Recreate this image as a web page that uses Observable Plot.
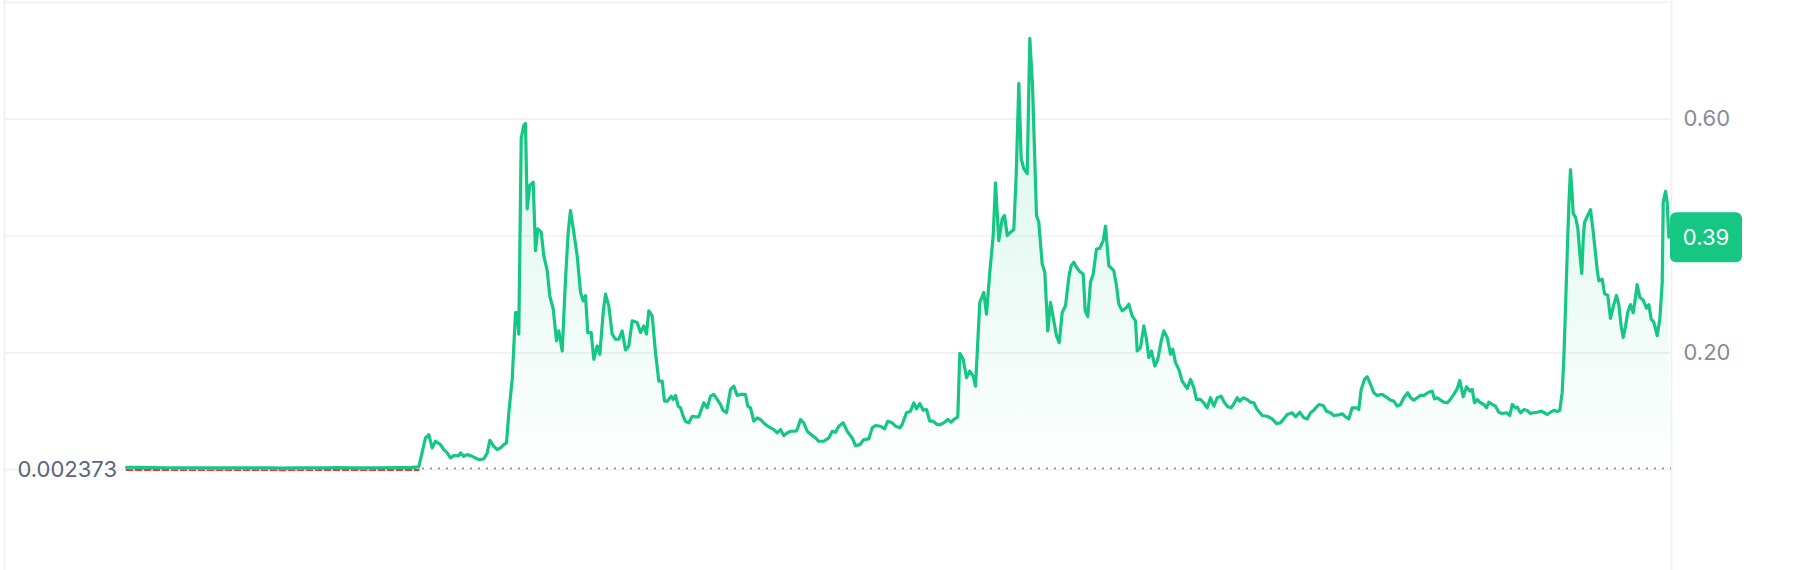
<!DOCTYPE html>
<html><head><meta charset="utf-8">
<script src="https://cdn.jsdelivr.net/npm/d3@7"></script>
<script src="https://cdn.jsdelivr.net/npm/@observablehq/plot@0.6"></script>
<style>
html,body{margin:0;padding:0;background:#fff;}
#chart{width:1804px;height:570px;overflow:hidden;}
svg{display:block;}
</style></head><body><div id="chart"></div>
<script>
// time steps (arbitrary units along the x axis) and prices
const times = [
0,12,25,40,55,70,85,100,115,130,145,155,170,185,200,210,225,240,255,270,282,292.3,
299,302.3,305.7,309,314,317.3,320.7,324,327.3,332.3,334,337.3,340.7,345.7,349,352.3,357.3,360.7,363.3,367.3,370.7,374,377.3,380,
382.3,385.7,389,390.7,392.3,394.7,397.3,399,400.7,403.3,406.7,409,411.3,414.7,417.3,420.7,423.3,426.7,430,432.3,435.7,439,441.7,444,447.3,450.7,454,456.7,459,461.3,464.7,467.3,470.7,473.3,476.7,479,482.3,485.7,489,492.3,495.7,499,502.3,505.7,510.7,514,517.3,520,522.3,525.7,529,532.3,535.7,538,540.7,544.7,546.7,549,551.7,554,556.7,559,562.3,565.7,569,572.3,
577.3,580.7,584,587.3,590.7,594,596.7,600,604,607.3,610.7,614,619,621.3,624,627.3,630.7,634,639,644,647.3,650.7,654,657.3,660.7,664,669,670.7,674,677.3,680.7,685.7,689,692.3,697.3,702.3,705.7,709,712.3,716.7,720.7,725.7,729,733.3,737.3,742.3,745.7,749,754,758,761.3,765.7,769,773.3,775.7,780,784,787.3,790,793.3,796.7,800,803.3,806.7,810.7,814,817.3,821.3,824.7,827.3,831.3,833.3,836.7,840,843.3,846.7,849,853.3,857.3,860,863.3,866.7,869,872.3,
875.7,878,880.7,884,887.3,889.7,892.3,894.7,897.3,900.7,903.3,906,910,912.3,915.7,918.3,921.3,924,927.3,930,932.7,935.7,939,942.3,944.7,947.3,950,953.3,956.7,958.7,961.3,964,966.7,970,973.3,976.7,979,982.3,987.3,990,992.3,995.7,1000,1002.3,1005.7,1009,1010.7,1014,1017.3,1020,1022.3,1025,1028.3,1031.3,1034.7,1037.3,1040.7,1044,1046.3,1049,1052.3,1055.7,1060.7,1064,1067.3,1070,1074,1077.3,1080.7,1084,1087.3,1090.7,1094.7,1098,1101.3,1104.7,1108,1110.7,1113.3,1116.7,1120.7,1124,
1127.3,1130.7,1135.7,1140.7,1145.7,1150,1154,1157.3,1160.7,1165.7,1169,1173.3,1177.3,1180.7,1184,1187.3,1192.3,1196.7,1200,1204,1207.3,1212.3,1215.7,1219,1222.3,1225.7,1230,1232.3,1234.7,1238,1240.7,1243.3,1247.3,1250.7,1255.7,1260.7,1264,1267.3,1270.7,1274,1277.3,1281.3,1284,1287.3,1290.7,1294,1297.3,1301.3,1305.7,1308,1310.7,1314,1317.3,1320.7,1323.3,1327.3,1330.7,1333.3,1336.7,1340,1343.3,1345.7,1348,1350.7,1354,1357.3,1360,1362.3,1365.7,1369,1372.3,1375.7,1380,1383.3,1385.7,1389,1390.7,1394,1397.3,1400.7,1404,1407.3,1410.7,1414.7,1418,1420.7,1424,
1427.3,1430.7,1433.3,1435.7,1437.3,1439,1440.7,1442.3,1444,1445.7,1446.7,1449,1451.3,1453.3,1455.3,1456.7,1458,1461.3,1464,1466.7,1469,1470.7,1472.3,1475.7,1478,1481.3,1484,1487.3,1490,1492.3,1494.7,1496.7,1499,1501.3,1504,1506.7,1509,1510.7,1513.3,1516.7,1520,1522.3,1524.7,1527.3,1530.7,1533.3,1535.7,1536.7,1539,1540.7,1542.3
];
const prices = [
0.0033,0.0031,0.0028,0.0025,0.0022,0.0023,0.0021,0.0022,0.0023,0.0021,0.0022,0.0019,0.0022,0.0023,0.0025,0.0027,0.0024,0.0023,0.0025,0.0026,0.0028,0.004,
0.0535,0.0592,0.0364,0.0478,0.042,0.0335,0.0278,0.0192,0.0232,0.0232,0.0278,0.022,0.0249,0.022,0.0192,0.0163,0.0175,0.0278,0.0495,0.0392,0.0335,0.0364,0.042,0.045,
0.0965,0.1536,0.268,0.268,0.231,0.566,0.5885,0.5914,0.4455,0.4855,0.491,0.374,0.411,0.4055,0.3653,0.3396,0.2967,0.2738,0.2194,0.2366,0.2022,0.3253,0.4055,0.4426,0.4055,0.3653,0.3025,0.288,0.2967,0.2338,0.2338,0.188,0.2108,0.1966,0.268,0.2996,0.2795,0.231,0.2223,0.2223,0.2366,0.204,0.2108,0.2538,0.251,0.2338,0.2452,0.231,0.2709,0.2623,0.1995,0.1507,0.1507,0.1164,0.1164,0.125,0.1193,0.1262,0.1078,0.105,0.0906,0.0821,0.0793,0.0906,0.0896,0.0896,
0.1136,0.105,0.125,0.1279,0.1193,0.1107,0.1004,0.0965,0.1365,0.1422,0.1262,0.1279,0.1279,0.1078,0.105,0.0821,0.0879,0.085,0.0764,0.0707,0.0678,0.0621,0.0678,0.0575,0.0621,0.0649,0.0649,0.0678,0.085,0.0793,0.0649,0.0575,0.0535,0.0478,0.0478,0.0535,0.0649,0.0632,0.0735,0.0793,0.0649,0.0535,0.0403,0.042,0.0506,0.0518,0.0707,0.0747,0.0735,0.069,0.0821,0.0793,0.0735,0.0707,0.0764,0.0965,0.0993,0.1136,0.1033,0.1124,0.101,0.1021,0.0821,0.0821,0.0764,0.0764,0.0793,0.085,0.0804,0.085,0.0896,0.1983,0.188,0.1566,0.1679,0.1593,0.1422,0.2853,0.3025,0.2652,0.3368,0.3997,0.4901,0.3911,
0.4283,0.434,0.3997,0.4055,0.41,0.5027,0.6601,0.5313,0.5142,0.5056,0.7373,0.6572,0.434,0.4227,0.3511,0.3368,0.2366,0.2853,0.2538,0.228,0.2166,0.2681,0.2795,0.3282,0.3482,0.354,0.3454,0.3379,0.3339,0.2709,0.2613,0.3197,0.3339,0.3768,0.378,0.3911,0.4158,0.3482,0.3396,0.3138,0.2824,0.2709,0.2767,0.2824,0.2623,0.2538,0.2022,0.2081,0.2452,0.2223,0.1909,0.2022,0.1765,0.188,0.2194,0.2366,0.2252,0.1966,0.2052,0.1823,0.1708,0.1507,0.1377,0.1536,0.1394,0.1193,0.1193,0.1136,0.105,0.1222,0.1078,0.1222,0.125,0.1136,0.1068,0.105,0.1136,0.1222,0.1164,0.1222,0.1193,0.1147,
0.1136,0.1021,0.0918,0.0906,0.0861,0.0781,0.0793,0.0861,0.0936,0.0965,0.0896,0.0975,0.0879,0.0861,0.0965,0.101,0.1107,0.109,0.0993,0.0965,0.0918,0.093,0.0948,0.0896,0.0861,0.105,0.105,0.1021,0.1365,0.1536,0.1583,0.148,0.1308,0.1262,0.1279,0.1222,0.1181,0.1164,0.1078,0.1107,0.1222,0.1308,0.1222,0.1181,0.1222,0.1262,0.1262,0.1308,0.1336,0.1204,0.1222,0.1181,0.1147,0.1136,0.1181,0.1279,0.1377,0.1519,0.1239,0.1411,0.1336,0.1365,0.1136,0.1193,0.1136,0.1107,0.105,0.1147,0.1107,0.1078,0.0975,0.0953,0.0965,0.0918,0.1107,0.105,0.1061,0.0965,0.1021,0.1004,0.0953,0.0965,0.0975,0.0993,0.0965,0.0936,0.0975,
0.1006,0.0987,0.1006,0.1318,0.188,0.2754,0.3691,0.4501,0.5126,0.4689,0.4378,0.4314,0.4127,0.3691,0.3348,0.394,0.4221,0.4345,0.444,0.4065,0.3691,0.341,0.3222,0.3253,0.3004,0.2972,0.2579,0.2816,0.2972,0.2816,0.2441,0.2254,0.2441,0.2692,0.2816,0.2678,0.2941,0.3159,0.2941,0.2891,0.2754,0.2816,0.2567,0.2517,0.2285,0.2567,0.3191,0.4565,0.4752,0.4565,0.397
];
const basePrice = 0.002373;
const baseLabel = "0.002373";
const gridValues = [0, 0.2, 0.4, 0.6, 0.8];
const axisValues = [0.2, 0.6];
const axisLabels = ["0.20", "0.60"];
const lastLabel = "0.39";

const W = 1804, H = 570;
const GREEN = "#16C784", RED = "#EA3943", GRID = "#EFF1F4";
const data = times.map((t, i) => ({t, v: prices[i]}));
const last = data[data.length - 1];
const xMax = 1545;
// the flat stretch before the first rise, drawn in red where it sits under the start price
const flat = data.filter(d => d.t <= 292.3).map(d => ({t: d.t, v: Math.min(d.v, basePrice)}));

const defsMark = (index, scales) => {
  const yTop = scales.y(0.8), yBase = scales.y(basePrice);
  const defs = d3.create("svg:defs");
  const g = defs.append("linearGradient").attr("id", "cmcFill")
    .attr("gradientUnits", "userSpaceOnUse")
    .attr("x1", 0).attr("x2", 0).attr("y1", yTop).attr("y2", yBase);
  g.append("stop").attr("offset", "0%").attr("stop-color", GREEN).attr("stop-opacity", 0.19);
  g.append("stop").attr("offset", "100%").attr("stop-color", GREEN).attr("stop-opacity", 0.01);
  return defs.node();
};

const badgeMark = (index, scales) => {
  const x0 = scales.x(xMax), y = scales.y(last.v);
  const g = d3.create("svg:g");
  g.append("rect").attr("x", x0 - 1).attr("y", y - 25).attr("width", 72).attr("height", 50)
    .attr("rx", 6).attr("fill", GREEN);
  g.append("text").attr("x", x0 + 35).attr("y", y).attr("dy", "0.36em")
    .attr("text-anchor", "middle").attr("fill", "#fff")
    .attr("font-size", 22).attr("font-family", "Inter, sans-serif").text(lastLabel);
  return g.node();
};

const plot = Plot.plot({
  width: W, height: H,
  marginLeft: 126, marginRight: 133, marginTop: 0, marginBottom: 0,
  x: {domain: [0, xMax], axis: null},
  y: {domain: [-0.1723, 0.8029], axis: null},
  style: {fontFamily: "Inter, sans-serif", background: "#fff", overflow: "visible"},
  marks: [
    defsMark,
    Plot.ruleY(gridValues, {stroke: GRID, strokeWidth: 1.6, insetLeft: -122}),
    Plot.ruleX([0], {dx: -122, stroke: GRID, strokeWidth: 2}),
    Plot.ruleX([xMax], {stroke: GRID, strokeWidth: 2}),
    Plot.areaY(data, {x: "t", y1: d => basePrice, y2: "v", fill: "url(#cmcFill)"}),
    Plot.ruleY([basePrice], {stroke: "#8F98AA", strokeWidth: 2, strokeDasharray: "2,6"}),
    Plot.line(flat, {x: "t", y: "v", stroke: RED, strokeWidth: 1.8, dy: 1.6, strokeDasharray: "6,3"}),
    Plot.line(data, {x: "t", y: "v", stroke: GREEN, strokeWidth: 3.2, dy: -0.6, strokeLinejoin: "round"}),
    Plot.text(axisValues, {x: xMax, y: d => d, dx: 12, text: (d, i) => axisLabels[i], textAnchor: "start", fill: "#868C98", fontSize: 22}),
    Plot.text([basePrice], {x: 0, y: d => d, dx: -109, dy: 2, text: () => baseLabel, textAnchor: "start", fill: "#58667E", fontSize: 22}),
    badgeMark
  ]
});
document.getElementById("chart").appendChild(plot);
</script>
</body></html>
